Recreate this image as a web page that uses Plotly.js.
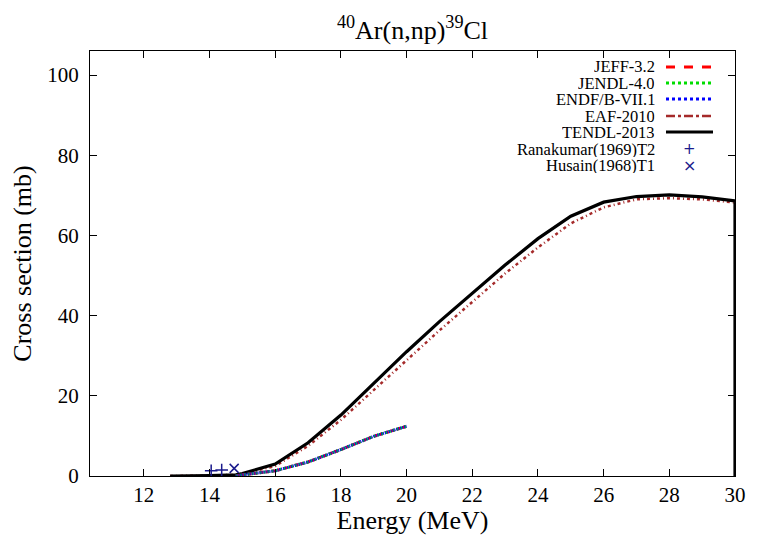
<!DOCTYPE html>
<html><head><meta charset="utf-8">
<script src="https://cdn.plot.ly/plotly-3.0.1.min.js"></script>
<style>html,body{margin:0;padding:0;background:#fff}#chart{width:761px;height:535px}</style>
</head><body><div id="chart"></div>
<script>
// Evaluated data
const tendlE = [12.8, 13, 14, 14.8, 15, 16, 17, 18, 19, 20, 21, 22, 23, 24, 25, 26, 27, 28, 29, 30, 30];
const tendlXS = [0, 0, 0.1, 0.3, 0.6, 3.0, 8.3, 15.2, 23.0, 31.0, 38.5, 45.6, 52.6, 59.2, 64.8, 68.3, 69.7, 70.1, 69.6, 68.6, 0];
const eafE = [12.8, 13, 14, 14.8, 15, 16, 17, 18, 19, 20, 21, 22, 23, 24, 25, 26, 27, 28, 29, 30];
const eafXS = [0, 0, 0.1, 0.3, 0.5, 2.5, 7.5, 14.0, 21.5, 29.0, 36.3, 43.4, 50.5, 57.0, 63.0, 67.0, 69.0, 69.3, 69.0, 68.2];
const jeffE = [14.8, 15, 16, 17, 18, 19, 20];
const jeffXS = [0, 0.3, 1.3, 3.5, 6.6, 9.9, 12.4];
const jendlE = [14.8, 15, 16, 17, 18, 19, 20];
const jendlXS = [0, 0.3, 1.3, 3.5, 6.6, 9.9, 12.4];
const endfE = [14.8, 15, 16, 17, 18, 19, 20];
const endfXS = [0, 0.3, 1.3, 3.5, 6.6, 9.9, 12.4];
// Experimental data
const ranaE = [14.05, 14.37];
const ranaXS = [1.3, 1.5];
const husainE = [14.75];
const husainXS = [1.9];

const legendNames = ['JEFF-3.2','JENDL-4.0','ENDF/B-VII.1','EAF-2010','TENDL-2013','Ranakumar(1969)T2','Husain(1968)T1'];

const font = '"Liberation Serif", "Times New Roman", serif';
const markColor = '#1a1a8c';
const traces = [
  {x: eafE, y: eafXS, mode:'lines', line:{color:'#a52a2a', width:2.5, dash:'3px,3px,1px,3px'}, name: legendNames[3]},
  {x: tendlE, y: tendlXS, mode:'lines', line:{color:'#000000', width:3.2}, name: legendNames[4]},
  {x: jeffE, y: jeffXS, mode:'lines', line:{color:'#ff0000', width:3, dash:'4px,2px'}, name: legendNames[0]},
  {x: jendlE, y: jendlXS, mode:'lines', line:{color:'#00dd00', width:3, dash:'2px,2px'}, name: legendNames[1]},
  {x: endfE, y: endfXS, mode:'lines', line:{color:'#0000ff', width:3, dash:'1px,1px'}, name: legendNames[2]},
  {x: ranaE, y: ranaXS, mode:'markers', marker:{symbol:'cross-thin-open', size:9, color:markColor, line:{color:markColor, width:1.5}}, name: legendNames[5]},
  {x: husainE, y: husainXS, mode:'markers', marker:{symbol:'x-thin-open', size:9, color:markColor, line:{color:markColor, width:1.5}}, name: legendNames[6]}
];

// custom gnuplot-style legend (text right-aligned, sample on the right); paper coords = plot area
const L = 90, R = 735, T = 51, B = 476;
const px = v => (v - L) / (R - L), py = v => (B - v) / (B - T);
const rowY = [67, 83, 99, 116, 132, 149, 165];
const annotations = [];
const shapes = [];
const sampleStyles = [
  {color:'#ff0000', width:3, dash:'dash'},
  {color:'#00dd00', width:3, dash:'dot'},
  {color:'#0000ff', width:3, dash:'dot'},
  {color:'#a52a2a', width:2.5, dash:'dashdot'},
  {color:'#000000', width:3.2, dash:'solid'}
];
legendNames.forEach((n, i) => {
  annotations.push({xref:'paper', yref:'paper', x: px(656), y: py(rowY[i]), xanchor:'right', yanchor:'middle',
    text: n, showarrow:false, height:15, borderpad:0, font:{family:font, size:16.5, color:'#000'}});
  if (i < 5) {
    shapes.push({type:'line', xref:'paper', yref:'paper', x0: px(666), x1: px(713), y0: py(rowY[i]), y1: py(rowY[i]), line: sampleStyles[i]});
  } else {
    annotations.push({xref:'paper', yref:'paper', x: px(689), y: py(rowY[i]), xanchor:'center', yanchor:'middle',
      text: i === 5 ? '+' : '×', showarrow:false, height:14, borderpad:0, font:{family:'DejaVu Sans', size: i===5?15:16, color:markColor}});
  }
});

const layout = {
  width: 761, height: 535,
  margin: {l:L, r:761-R, t:T, b:535-B},
  paper_bgcolor:'#fff', plot_bgcolor:'#fff',
  showlegend:false,
  font:{family:font, color:'#000'},
  title:{text:'<sup>40</sup>Ar(n,np)<sup>39</sup>Cl', font:{family:font, size:26, color:'#000'}, xref:'paper', x:0.5, xanchor:'center', y: 1 - 30/535, yanchor:'middle'},
  xaxis:{range:[10.36, 30], tickvals:[12,14,16,18,20,22,24,26,28,30], ticks:'inside', ticklen:7, tickcolor:'#000',
    showline:true, linecolor:'#000', linewidth:1, mirror:'allticks', showgrid:false, zeroline:false,
    tickfont:{family:font, size:21, color:'#000'},
    title:{text:'Energy (MeV)', font:{family:font, size:26, color:'#000'}, standoff:0}},
  yaxis:{range:[0, 106], tickvals:[0,20,40,60,80,100], ticks:'inside', ticklen:7, tickcolor:'#000',
    showline:true, linecolor:'#000', linewidth:1, mirror:'allticks', showgrid:false, zeroline:false,
    ticklabelstandoff:6,
    tickfont:{family:font, size:21, color:'#000'},
    title:{text:'Cross section (mb)', font:{family:font, size:26, color:'#000'}, standoff:8}},
  annotations, shapes
};
Plotly.newPlot('chart', traces, layout, {displayModeBar:false, staticPlot:true});
</script></body></html>
